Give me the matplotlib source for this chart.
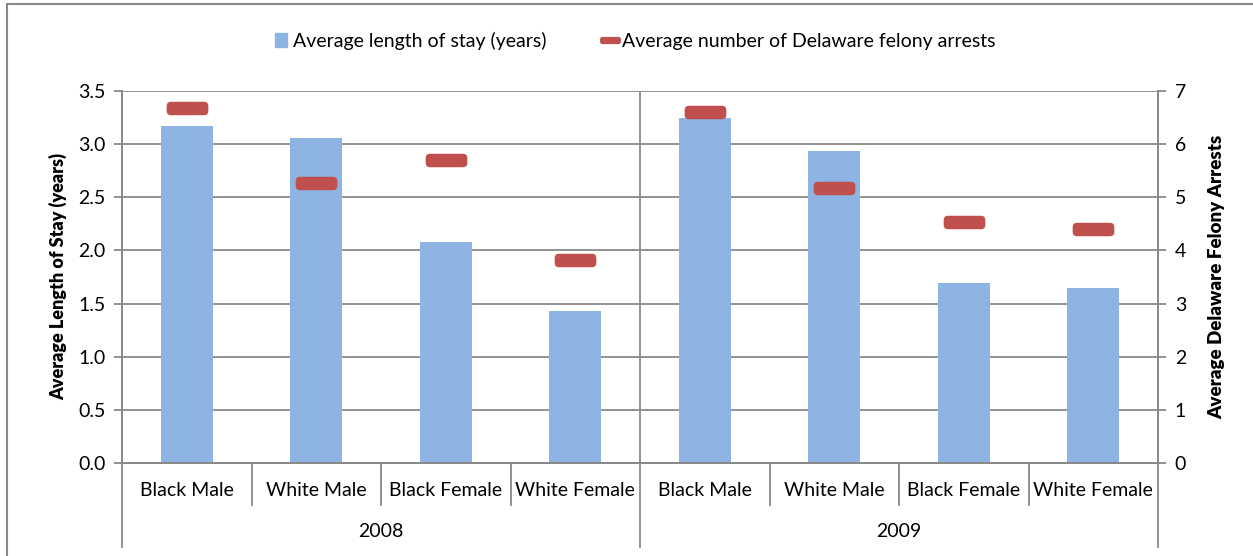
import numpy as np
import matplotlib
matplotlib.use('Agg')
import matplotlib.pyplot as plt
from matplotlib.patches import Rectangle, BoxStyle
from matplotlib.lines import Line2D

# data
years = ['2008', '2009']
groups = ['Black Male', 'White Male', 'Black Female', 'White Female']
stay_years = [3.17, 3.06, 2.08, 1.43, 3.25, 2.94, 1.69, 1.65]
felony_arrests = [6.68, 5.27, 5.71, 3.82, 6.61, 5.18, 4.54, 4.41]

bar_color = '#8EB4E3'
red = '#C0504D'
grid_gray = '#898989'
plt.rcParams['font.family'] = ['Lato', 'DejaVu Sans']

fig = plt.figure(figsize=(12.53, 5.56), dpi=100)
ax = fig.add_axes([122/1253, 1 - 463/556, (1158-122)/1253, (463-91)/556])
ax2 = ax.twinx()

x = np.arange(len(stay_years))
ax.bar(x, stay_years, width=0.4, color=bar_color, zorder=2)
ax.set_xlim(-0.5, len(stay_years) - 0.5)
ax.set_ylim(0, 3.5)
ax.set_yticks(np.arange(0, 3.51, 0.5))
ax.set_yticklabels(['%.1f' % v for v in np.arange(0, 3.51, 0.5)])
ax.yaxis.grid(True, color=grid_gray, lw=1.3)
ax.set_axisbelow(True)

# rounded dash marker for the arrests series
dash = BoxStyle.Round(pad=0, rounding_size=0.18)(-1, -0.3, 2, 0.6, 1)
ax2.plot(x, felony_arrests, ls='none', marker=dash, markersize=29,
         color=red, mec=red, zorder=3)
ax2.set_ylim(0, 7)
ax2.set_yticks(range(8))

for a in (ax, ax2):
    for s in a.spines.values():
        s.set_color(grid_gray)
        s.set_linewidth(1.3)
    a.spines['top'].set_visible(False)
    a.tick_params(axis='y', length=6, width=1.3, color=grid_gray, labelsize=14, pad=6)

ax.set_ylabel('Average Length of Stay (years)', fontsize=13, fontweight='heavy', labelpad=8)
ax2.set_ylabel('Average Delaware Felony Arrests', fontsize=13.5, fontweight='heavy', labelpad=16)

# category axis: labels plus separator lines below the plot
ax.set_xticks([])
tr = ax.get_xaxis_transform()
n = len(groups)
for i in range(len(stay_years)):
    ax.text(i, -0.075, groups[i % n], transform=tr, ha='center', va='center', fontsize=14)
for b in np.arange(-0.5, len(stay_years), 1.0):
    low = -0.226 if (b + 0.5) % n == 0 else -0.113
    ax.plot([b, b], [0, low], transform=tr, color=grid_gray, lw=1.3, clip_on=False)
for k, yr in enumerate(years):
    ax.text(k * n + (n - 1) / 2, -0.185, yr, transform=tr, ha='center', va='center', fontsize=14)
ax.axvline(n - 0.5, color=grid_gray, lw=1.3, zorder=1)

# legend
handles = [Rectangle((0, 0), 1, 1, color=bar_color),
           Line2D([], [], ls='none', marker=dash, markersize=14, color=red)]
fig.legend(handles, ['Average length of stay (years)', 'Average number of Delaware felony arrests'],
           loc='center', bbox_to_anchor=(0.5 + 9/1253, 1 - 41/556), ncol=2, frameon=False,
           fontsize=14, handlelength=0.6, handletextpad=0.3, columnspacing=3.0)

# outer chart border
fig.add_artist(Rectangle((7/1253, -0.05), 1.1, 1 - 4/556 + 0.05, transform=fig.transFigure,
                         fill=False, ec=grid_gray, lw=1.5))

fig.savefig('out.png', dpi=100)
